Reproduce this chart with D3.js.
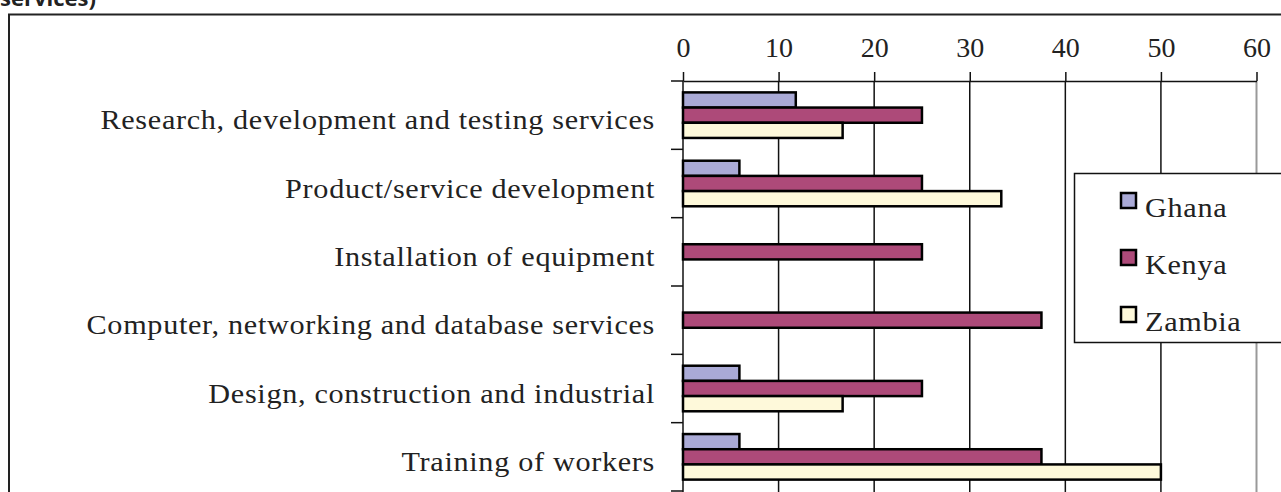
<!DOCTYPE html>
<html>
<head>
<meta charset="utf-8">
<script src="https://cdn.jsdelivr.net/npm/d3@7"></script>
<style>
  body { margin: 0; background: #fff; }
  svg { display: block; }
</style>
</head>
<body>
<svg id="chart" width="1281" height="492"></svg>
<script>
// chart data
var categories = [
    "Research, development and testing services",
    "Product/service development",
    "Installation of equipment",
    "Computer, networking and database services",
    "Design, construction and industrial",
    "Training of workers"
];
var series = ["Ghana", "Kenya", "Zambia"];
var ghana = [11.8, 5.9, 0, 0, 5.9, 5.9];
var kenya = [25, 25, 25, 37.5, 25, 37.5];
var zambia = [16.7, 33.3, 0, 0, 16.7, 50];
var xTicks = [0, 10, 20, 30, 40, 50, 60];
var colors = ["#aaaad6", "#ad4a79", "#fef9da"];

var values = [ghana, kenya, zambia];
var serif = "'Liberation Serif', 'Times New Roman', Times, serif";
const stretch = 1.12;   // Garamond-ish width from a Times face

var svg = d3.select("#chart");
var plot_top = 81, plot_bottom = 491;
var x0 = 683, x1 = 1256.5;

// header fragment cut at the top of the picture
svg.append("text")
    .attr("x", 0)
    .attr("y", 6)
    .style("font-family", "'Open Sans', sans-serif")
    .style("font-weight", "bold")
    .style("font-size", "22px")
    .style("fill", "#222")
    .text("services)");

// outer frame of the chart
svg.append("rect")
    .attr("x", 9)
    .attr("y", 14.5)
    .attr("width", 1400)
    .attr("height", 600)
    .style("fill", "none")
    .style("stroke", "#222")
    .style("stroke-width", 2);

var x = d3.scaleLinear().domain([0, 60]).range([x0, x1]);
var y = d3.scaleBand().domain(categories).range([plot_top, plot_bottom]).padding(0);
var ySub = d3.scaleBand().domain(series).range([0, y.bandwidth()]).paddingInner(0).paddingOuter(0.75);

// vertical grid lines
svg.append("g")
    .selectAll("line")
    .data(xTicks.filter(function (d) { return d > 0; }))
    .join("line")
    .attr("x1", function (d) { return x(d); })
    .attr("x2", function (d) { return x(d); })
    .attr("y1", plot_top)
    .attr("y2", 492)
    .style("stroke", function (d) { return d === 60 ? "#999" : "#111"; })
    .style("stroke-width", function (d) { return d === 60 ? 2 : 1.5; });

// top axis
var xAxis = svg.append("g")
    .attr("transform", "translate(0," + plot_top + ")")
    .call(d3.axisTop(x).tickValues(xTicks).tickSize(9).tickSizeOuter(0).tickPadding(15));
xAxis.select(".domain").style("stroke", "#111").style("stroke-width", 1.5);
xAxis.selectAll(".tick line").style("stroke", "#111").style("stroke-width", 1.5);
xAxis.selectAll(".tick text")
    .style("font-family", serif)
    .style("font-size", "28px")
    .style("fill", "#222");

// left axis line and category boundary ticks
svg.append("line")
    .attr("x1", x0).attr("x2", x0)
    .attr("y1", plot_top).attr("y2", 492)
    .style("stroke", "#111").style("stroke-width", 1.5);

var bounds = categories.map(function (c) { return y(c); }).concat([plot_bottom]);
svg.append("g")
    .selectAll("line")
    .data(bounds)
    .join("line")
    .attr("x1", x0 - 12).attr("x2", x0)
    .attr("y1", function (d) { return d; })
    .attr("y2", function (d) { return d; })
    .style("stroke", "#111").style("stroke-width", 1.5);

// category labels
svg.append("g")
    .selectAll("text")
    .data(categories)
    .join("text")
    .attr("transform", function (d) {
        return "translate(655," + (y(d) + y.bandwidth() / 2 + 14) + ") scale(" + stretch + ",1)";
    })
    .attr("text-anchor", "end")
    .style("font-family", serif)
    .style("font-size", "27px")
    .style("letter-spacing", "0.6px")
    .style("fill", "#222")
    .text(function (d) { return d; });

// bars
series.forEach(function (s, si) {
    svg.append("g")
        .selectAll("rect")
        .data(categories.map(function (c, ci) { return { cat: c, v: values[si][ci] }; })
            .filter(function (d) { return d.v > 0; }))
        .join("rect")
        .attr("x", x(0))
        .attr("y", function (d) { return y(d.cat) + ySub(s); })
        .attr("width", function (d) { return x(d.v) - x(0); })
        .attr("height", ySub.bandwidth())
        .style("fill", colors[si])
        .style("stroke", "#000")
        .style("stroke-width", 2.5);
});

// legend
var legend = svg.append("g");
legend.append("rect")
    .attr("x", 1074.5)
    .attr("y", 173.5)
    .attr("width", 300)
    .attr("height", 169)
    .style("fill", "#fff")
    .style("stroke", "#111")
    .style("stroke-width", 1.5);

var item = legend.selectAll("g.item")
    .data(series)
    .join("g")
    .attr("class", "item")
    .attr("transform", function (d, i) { return "translate(1121," + (193 + i * 57) + ")"; });
item.append("rect")
    .attr("width", 15)
    .attr("height", 15)
    .style("fill", function (d, i) { return colors[i]; })
    .style("stroke", "#000")
    .style("stroke-width", 2.5);
item.append("text")
    .attr("transform", "translate(24,24) scale(" + stretch + ",1)")
    .style("font-family", serif)
    .style("font-size", "27px")
    .style("letter-spacing", "0.6px")
    .style("fill", "#222")
    .text(function (d) { return d; });
</script>
</body>
</html>
